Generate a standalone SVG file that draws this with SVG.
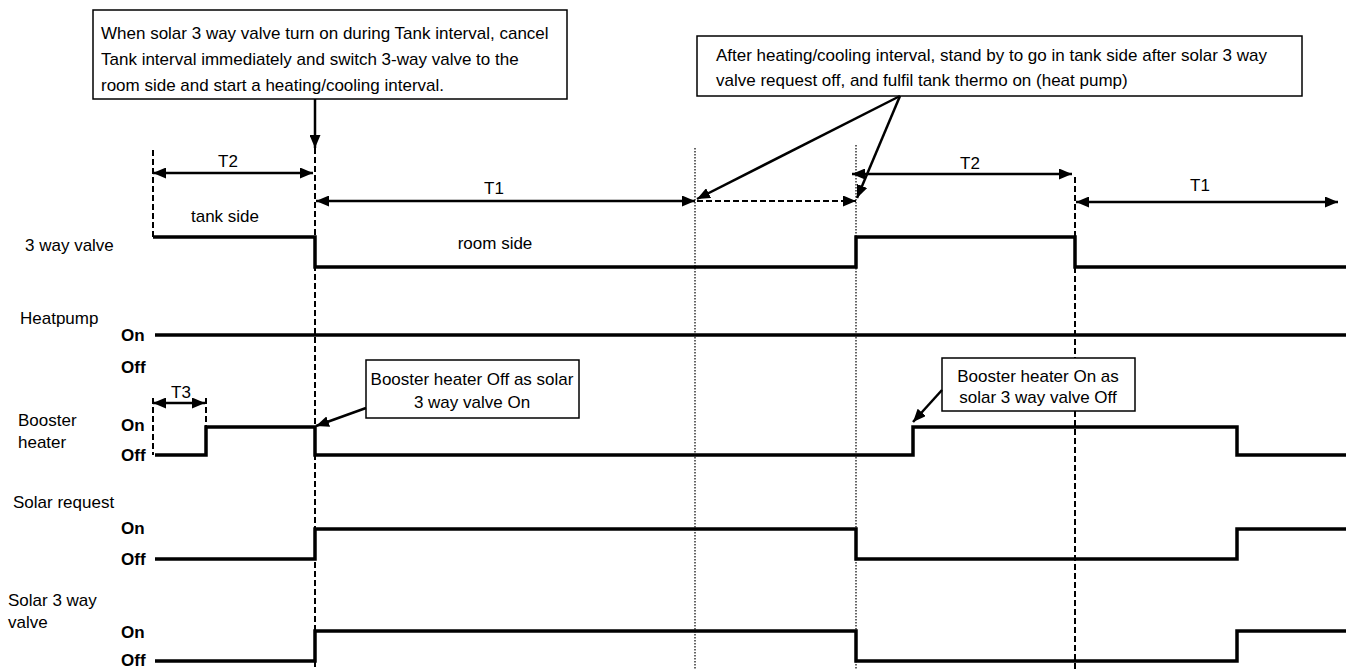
<svg xmlns="http://www.w3.org/2000/svg" width="1346" height="669" viewBox="0 0 1346 669">
<style>
text{font-family:"Liberation Sans",Arial,sans-serif;font-size:17px;fill:#000}
.b{font-weight:bold}
.m{text-anchor:middle}
.box{fill:#fff;stroke:#000;stroke-width:1.5}
.wave{fill:none;stroke:#000;stroke-width:3.5;stroke-linejoin:miter}
.arr{fill:none;stroke:#000;stroke-width:2.5}
.dash{fill:none;stroke:#000;stroke-width:2;stroke-dasharray:6 3}
.dot{fill:none;stroke:#000;stroke-width:1.2;stroke-dasharray:1.5 1.5}
</style>
<defs>
<marker id="ah" markerUnits="userSpaceOnUse" markerWidth="13" markerHeight="11" refX="13" refY="5.5" orient="auto-start-reverse" viewBox="0 0 13 11">
<path d="M0,0 L13,5.5 L0,11 z" fill="#000" stroke="none"/>
</marker>
</defs>

<g id="guides">
<line class="dash" x1="153" y1="150" x2="153" y2="237"/>
<line class="dash" x1="315" y1="148" x2="315" y2="669"/>
<line class="dot" x1="695" y1="148" x2="695" y2="669"/>
<line class="dot" x1="856" y1="145" x2="856" y2="669"/>
<line class="dash" x1="1075" y1="177" x2="1075" y2="669"/>
<line class="dash" x1="153" y1="398" x2="153" y2="455"/>
<line class="dash" x1="206" y1="398" x2="206" y2="427"/>
</g>

<g id="valve3way">
<text x="25" y="251">3 way valve</text>
<text class="m" x="225" y="222">tank side</text>
<text class="m" x="495" y="249">room side</text>
<path class="wave" d="M153,237 H315 V267 H856 V237 H1075 V267 H1346"/>
</g>

<g id="heatpump">
<text x="20" y="324">Heatpump</text>
<text class="b" x="121" y="341">On</text>
<text class="b" x="121" y="373">Off</text>
<path class="wave" d="M155,335 H1346"/>
</g>

<g id="booster">
<text x="18" y="426">Booster</text>
<text x="18" y="448">heater</text>
<text class="b" x="121" y="431">On</text>
<text class="b" x="121" y="461">Off</text>
<path class="wave" d="M155,455 H206 V427 H315 V455 H913 V427 H1237 V455 H1346"/>
</g>

<g id="solarrequest">
<text x="13" y="508">Solar request</text>
<text class="b" x="121" y="534">On</text>
<text class="b" x="121" y="565">Off</text>
<path class="wave" d="M155,559 H315 V529 H856 V559 H1237 V529 H1346"/>
</g>

<g id="solar3way">
<text x="8" y="606">Solar 3 way</text>
<text x="8" y="628">valve</text>
<text class="b" x="121" y="638">On</text>
<text class="b" x="121" y="666">Off</text>
<path class="wave" d="M155,661 H315 V631 H856 V661 H1237 V631 H1346"/>
</g>

<g id="intervals">
<text class="m" x="228" y="167">T2</text>
<text class="m" x="494" y="194">T1</text>
<text class="m" x="970" y="169">T2</text>
<text class="m" x="1200" y="191">T1</text>
<text class="m" x="181" y="398">T3</text>
</g>

<g id="callout-top-left">
<rect class="box" x="93" y="10" width="474" height="89"/>
<text x="101" y="39">When solar 3 way valve turn on during Tank interval, cancel</text>
<text x="101" y="65">Tank interval immediately and switch 3-way valve to the</text>
<text x="101" y="91">room side and start a heating/cooling interval.</text>
</g>

<g id="callout-top-right">
<rect class="box" x="697" y="36" width="605" height="60"/>
<text x="716" y="61">After heating/cooling interval, stand by to go in tank side after solar 3 way</text>
<text x="716" y="86">valve request off, and fulfil tank thermo on (heat pump)</text>
</g>

<g id="callout-booster-off">
<rect class="box" x="366" y="360" width="213" height="58"/>
<text class="m" x="472" y="385">Booster heater Off as solar</text>
<text class="m" x="472" y="408">3 way valve On</text>
</g>

<g id="callout-booster-on">
<rect class="box" x="942" y="358" width="193" height="53"/>
<text class="m" x="1038" y="382">Booster heater On as</text>
<text class="m" x="1038" y="403">solar 3 way valve Off</text>
</g>

<g id="connectors">
<line class="arr" x1="153" y1="173" x2="313" y2="173" marker-start="url(#ah)" marker-end="url(#ah)"/>
<line class="arr" x1="316" y1="201" x2="695" y2="201" marker-start="url(#ah)" marker-end="url(#ah)"/>
<line class="dash" x1="697" y1="201" x2="856" y2="201" marker-end="url(#ah)"/>
<line class="arr" x1="852" y1="174" x2="1072" y2="174" marker-start="url(#ah)" marker-end="url(#ah)"/>
<line class="arr" x1="1076" y1="202" x2="1338" y2="202" marker-start="url(#ah)" marker-end="url(#ah)"/>
<line class="arr" x1="153" y1="403" x2="205" y2="403" marker-start="url(#ah)" marker-end="url(#ah)"/>
<line class="arr" x1="315" y1="99" x2="315" y2="148" marker-end="url(#ah)"/>
<line class="arr" x1="900" y1="96" x2="697" y2="199" marker-end="url(#ah)"/>
<line class="arr" x1="900" y1="96" x2="857" y2="198" marker-end="url(#ah)"/>
<line class="arr" x1="366" y1="408" x2="316" y2="426" marker-end="url(#ah)"/>
<line class="arr" x1="942" y1="390" x2="913" y2="422" marker-end="url(#ah)"/>
</g>
</svg>
